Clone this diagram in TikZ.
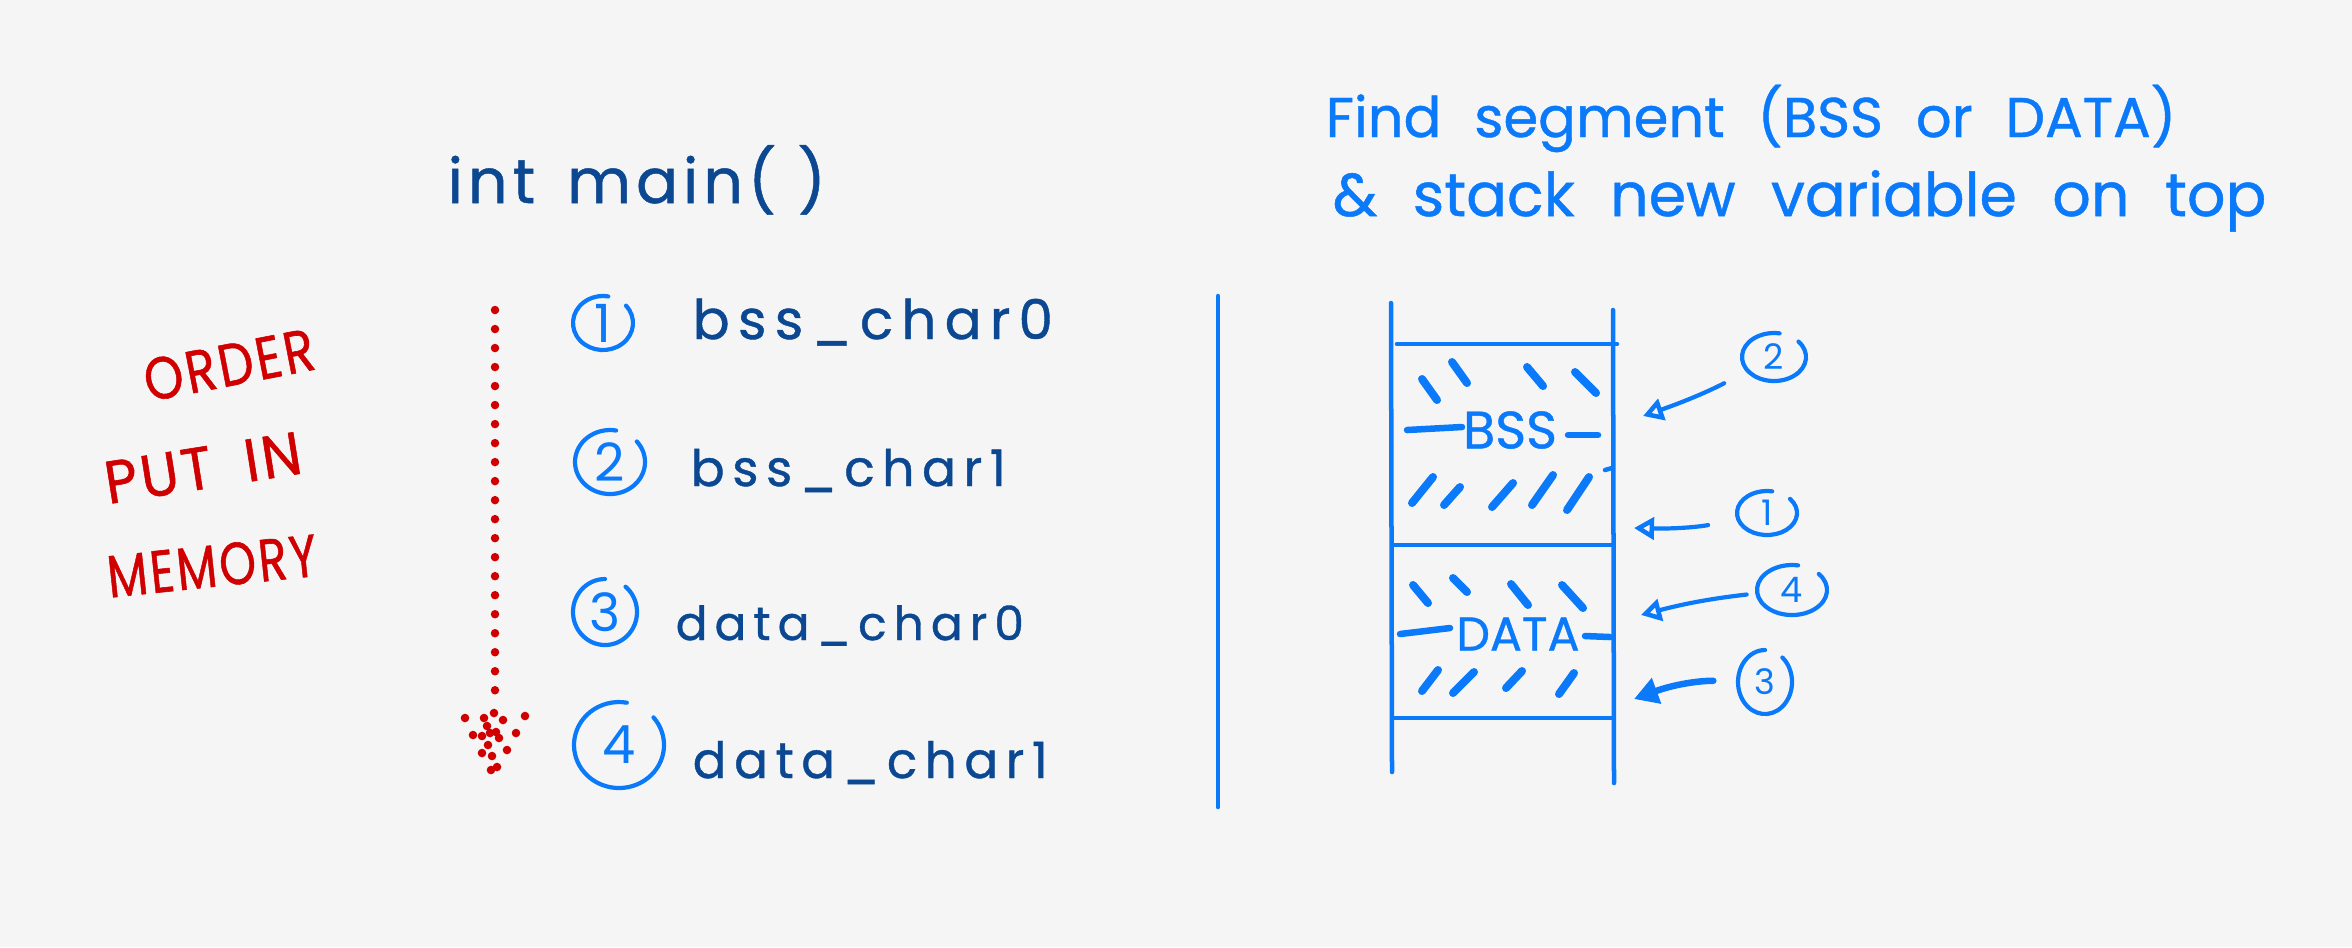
\documentclass[tikz,border=0pt]{standalone}
\usepackage{fontspec}
\setmainfont{Poppins}
\newfontfamily\lblfont{Poppins}[LetterSpace=15, FakeBold=0.8]
\newfontfamily\codefont{Poppins}[LetterSpace=8, FakeBold=0.8]
\newfontfamily\headfont{Poppins}[WordSpace=2.2, FakeBold=0.8]
\newfontfamily\redfont{Poppins}[LetterSpace=6, WordSpace=1.8, FakeBold=1]
\usetikzlibrary{arrows.meta,shapes.geometric}
\definecolor{bgc}{RGB}{245,245,245}
\definecolor{dkblue}{RGB}{12,72,145}
\definecolor{brblue}{RGB}{10,122,250}
\definecolor{hred}{RGB}{208,0,0}
\newcommand{\fitw}[2]{\resizebox{#1}{!}{#2}}
\newcommand{\fitwh}[3]{\resizebox{#1}{#2}{#3}}
\tikzset{
  lbl/.style={text=dkblue, inner sep=0pt, anchor=base west, font=\lblfont},
  codelbl/.style={text=dkblue, inner sep=0pt, anchor=base west, font=\codefont},
  head/.style={text=brblue, inner sep=0pt, anchor=base west, font=\headfont},
  redtxt/.style={text=hred, inner sep=0pt, font=\redfont},
  segtxt/.style={text=brblue, inner sep=0pt, font=\headfont},
  numl/.style={ellipse, inner sep=0pt, text=brblue, font=\fontsize{15}{15}\selectfont},
  numr/.style={ellipse, inner sep=0pt, text=brblue, font=\fontsize{10}{10}\selectfont},
  ring/.style={draw=brblue, line width=0.042cm, line cap=round},
  boxline/.style={draw=brblue, line width=0.045cm, line cap=round},
  hatch/.style={draw=brblue, line width=0.08cm, line cap=round},
  segdash/.style={draw=brblue, line width=0.065cm, line cap=round},
  reddots/.style={draw=hred, line width=0.085cm, line cap=round, dash pattern=on 0pt off 0.19cm},
  ptr/.style={draw=brblue, line width=0.042cm, line cap=round, -{Triangle[open, length=0.2cm, width=0.22cm, line width=0.045cm]}},
  ptrbold/.style={draw=brblue, line width=0.065cm, line cap=round, -{Triangle[length=0.24cm, width=0.26cm]}}
}
\begin{document}
\begin{tikzpicture}[x=0.01cm,y=-0.01cm]
\fill[bgc] (0,0) rectangle (2352,947);
\useasboundingbox (0,0) rectangle (2352,947);

% left code
\node[codelbl] (intmain) at (447,203) {\fitw{3.78cm}{int\, main( )}};
\node[lbl] (b0) at (692,339) {\fitw{3.6cm}{bss\_char0}};
\node[lbl] (b1) at (690,486) {\fitw{3.15cm}{bss\_char1}};
\node[lbl] (d0) at (675,640) {\fitw{3.48cm}{data\_char0}};
\node[lbl] (d1) at (692,778) {\fitw{3.55cm}{data\_char1}};

% left circled numbers
\node[numl, minimum width=0.6cm, minimum height=0.54cm] (c1) at (603,323) {1};
\node[numl, minimum width=0.7cm, minimum height=0.64cm] (c2) at (610,462) {2};
\node[numl, minimum width=0.64cm, minimum height=0.66cm] (c3) at (605,612) {3};
\node[numl, minimum width=0.9cm, minimum height=0.86cm] (c4) at (619,745) {4};
\draw[ring] (c1.center) ++(-40:30 and 27) arc[start angle=-40, end angle=280, x radius=30, y radius=27];
\draw[ring] (c2.center) ++(-40:35 and 32) arc[start angle=-40, end angle=280, x radius=35, y radius=32];
\draw[ring] (c3.center) ++(-50:32 and 33) arc[start angle=-50, end angle=270, x radius=32, y radius=33];
\draw[ring] (c4.center) ++(-40:45 and 43) arc[start angle=-40, end angle=280, x radius=45, y radius=43];

% red order arrow
\coordinate (dtop) at (495,310);
\coordinate (dbot) at (495,705);
\draw[reddots] (dtop) -- (dbot);
\foreach \p in {(465,718),(484,718),(494,713),(503,720),(525,716),(487,726),(473,735),(482,736),(490,733),(496,732),(499,738),(516,733),(488,745),(482,753),(492,756),(507,750),(497,767),(491,770)}
  \fill[hred] \p circle[radius=4.3];

% red text
\node[redtxt, rotate=11] (order) at (229,365) {\fitwh{1.72cm}{0.42cm}{ORDER}};
\node[redtxt, rotate=9] (putin) at (203,468) {\fitwh{1.98cm}{0.42cm}{PUT IN}};
\node[redtxt, rotate=6] (memory) at (212,566) {\fitwh{2.1cm}{0.42cm}{MEMORY}};

% divider
\coordinate (dv1) at (1218,296);
\coordinate (dv2) at (1218,807);
\draw[boxline] (dv1) -- (dv2);

% heading
\node[head] (h1) at (1325,137) {\fitw{8.5cm}{Find segment (BSS or DATA)}};
\node[head] (h2) at (1332,216) {\fitw{9.33cm}{\& stack new variable on top}};

% memory box
\draw[boxline] (1391,303) -- (1392,772);
\draw[boxline] (1613,310) -- (1614,783);
\draw[boxline] (1397,344) -- (1617,344);
\draw[boxline] (1392,545) -- (1612,545);
\draw[boxline] (1393,718) -- (1612,718);
\draw[boxline] (1605,470) -- (1612,468);

% segment labels
\node[segtxt] (bss) at (1510,430) {\fitw{0.94cm}{BSS}};
\node[segtxt] (data) at (1518,634) {\fitw{1.23cm}{DATA}};
\draw[segdash] (1407,430) -- (1462,427);
\draw[segdash] (1568,435) -- (1598,435);
\draw[segdash] (1400,634) -- (1450,628);
\draw[segdash] (1585,636) -- (1610,637);

% hatches BSS
\draw[hatch] (1422,379) -- (1437,400);
\draw[hatch] (1452,362) -- (1467,383);
\draw[hatch] (1527,367) -- (1543,386);
\draw[hatch] (1575,372) -- (1596,393);
\draw[hatch] (1412,503) -- (1433,477);
\draw[hatch] (1444,505) -- (1460,487);
\draw[hatch] (1492,507) -- (1513,483);
\draw[hatch] (1532,505) -- (1553,475);
\draw[hatch] (1567,510) -- (1589,477);
% hatches DATA
\draw[hatch] (1413,585) -- (1428,603);
\draw[hatch] (1453,578) -- (1467,592);
\draw[hatch] (1511,584) -- (1528,605);
\draw[hatch] (1562,585) -- (1583,608);
\draw[hatch] (1422,691) -- (1438,670);
\draw[hatch] (1453,693) -- (1474,672);
\draw[hatch] (1506,688) -- (1522,671);
\draw[hatch] (1559,694) -- (1574,673);

% right circled numbers and pointers
\node[numr, minimum width=0.64cm, minimum height=0.48cm] (r2) at (1774,357) {2};
\node[numr, minimum width=0.6cm, minimum height=0.44cm] (r1) at (1767,513) {1};
\node[numr, minimum width=0.7cm, minimum height=0.5cm] (r4) at (1792,590) {4};
\node[numr, minimum width=0.54cm, minimum height=0.64cm] (r3) at (1765,682) {3};
\draw[ring] (r2.center) ++(-40:32 and 24) arc[start angle=-40, end angle=280, x radius=32, y radius=24];
\draw[ring] (r1.center) ++(-40:30 and 22) arc[start angle=-40, end angle=280, x radius=30, y radius=22];
\draw[ring] (r4.center) ++(-40:35 and 25) arc[start angle=-40, end angle=280, x radius=35, y radius=25];
\draw[ring] (r3.center) ++(-50:27 and 32) arc[start angle=-50, end angle=270, x radius=27, y radius=32];
\coordinate (t2) at (1643,416);
\coordinate (t1) at (1634,528);
\coordinate (t4) at (1641,615);
\coordinate (t3) at (1634,699);
\draw[ptr, shorten <=0.26cm] (r2) to[bend left=4] (t2);
\draw[ptr, shorten <=0.3cm] (r1) to[bend left=6] (t1);
\draw[ptr, shorten <=0.1cm] (r4) to[bend right=4] (t4);
\draw[ptrbold, shorten <=0.24cm] (r3) to[bend right=10] (t3);
\end{tikzpicture}
\end{document}
